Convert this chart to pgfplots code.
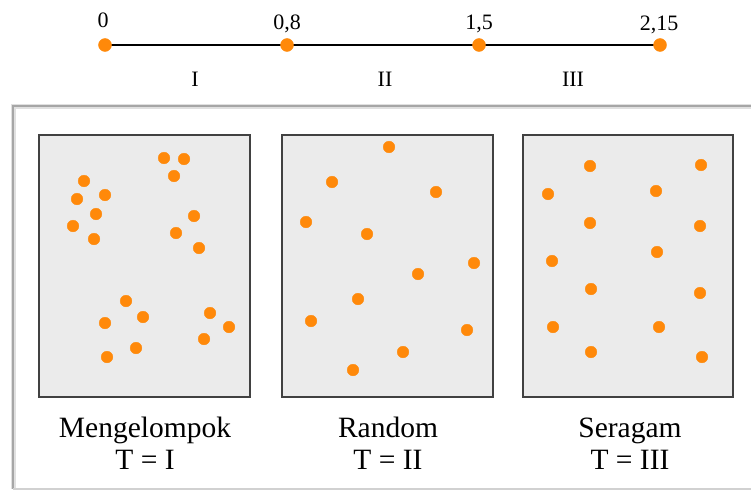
\documentclass[border=0pt]{standalone}
\usepackage{pgfplots}
\pgfplotsset{compat=1.18}
\usepackage{fontspec}
\setmainfont{Liberation Serif}

\definecolor{dot}{RGB}{255,137,10}
\definecolor{panelfill}{RGB}{235,235,235}
\definecolor{panelline}{RGB}{65,65,65}
\definecolor{txt}{RGB}{45,45,45}

\begin{document}
\begin{tikzpicture}
\begin{axis}[
    width=751pt, height=495pt, scale only axis,
    xmin=0, xmax=751, ymin=0, ymax=495,
    y dir=reverse,
    hide axis,
    every node/.style={text=txt},
    dots/.style={only marks, mark=*, mark size=5.8pt, color=dot,
        mark options={draw=none, fill=dot}},
]
% page corners
\addplot[draw=none] coordinates {(0,0) (751,495)};

% outer frame
\addplot[draw=black!12, line width=5pt] coordinates {(13,489) (13,106) (770,106)};
\addplot[draw=black!35, line width=1.6pt] coordinates {(13,489) (13,106) (770,106)};
\addplot[draw=black!18, line width=1.5pt] coordinates {(13,489) (770,489)};

% number line
\addplot[black, line width=2.6pt] coordinates {(105,45) (660,45)};
\addplot[dots, mark size=6.5pt] coordinates {(105,45) (287,45) (479,45) (660,45)};

\node[font=\fontsize{22}{24}\selectfont, anchor=base] at (axis cs:103,28) {0};
\node[font=\fontsize{22}{24}\selectfont, anchor=base] at (axis cs:287,30) {0,8};
\node[font=\fontsize{22}{24}\selectfont, anchor=base] at (axis cs:479,30) {1,5};
\node[font=\fontsize{22}{24}\selectfont, anchor=base] at (axis cs:659,31) {2,15};
\node[font=\fontsize{22}{24}\selectfont, anchor=base] at (axis cs:195,86) {I};
\node[font=\fontsize{22}{24}\selectfont, anchor=base] at (axis cs:385,86) {II};
\node[font=\fontsize{22}{24}\selectfont, anchor=base] at (axis cs:573,86) {III};

% panels
\addplot[fill=panelfill, draw=panelline, line width=2.6pt]
    coordinates {(39,135) (250,135) (250,397) (39,397)} -- cycle;
\addplot[fill=panelfill, draw=panelline, line width=2.6pt]
    coordinates {(282,135) (493,135) (493,397) (282,397)} -- cycle;
\addplot[fill=panelfill, draw=panelline, line width=2.6pt]
    coordinates {(523,135) (733,135) (733,397) (523,397)} -- cycle;

% Mengelompok
\addplot[dots] coordinates {
    (84,181) (77,199) (105,195) (96,214) (73,226) (94,239)
    (164,158) (184,159) (174,176) (194,216) (176,233) (199,248)
    (126,301) (105,323) (143,317) (107,357) (136,348)
    (210,313) (229,327) (204,339)
};
% Random
\addplot[dots] coordinates {
    (389,147) (332,182) (436,192) (306,222) (367,234) (474,263)
    (418,274) (358,299) (311,321) (467,330) (403,352) (353,370)
};
% Seragam
\addplot[dots] coordinates {
    (590,166) (701,165) (548,194) (656,191) (590,223) (700,226)
    (657,252) (552,261) (591,289) (700,293) (553,327) (659,327)
    (591,352) (702,357)
};

\node[font=\fontsize{29.5}{32}\selectfont, anchor=base] at (axis cs:145,437) {Mengelompok};
\node[font=\fontsize{29.5}{32}\selectfont, anchor=base] at (axis cs:145,469) {T = I};
\node[font=\fontsize{29.5}{32}\selectfont, anchor=base] at (axis cs:388,437) {Random};
\node[font=\fontsize{29.5}{32}\selectfont, anchor=base] at (axis cs:388,469) {T = II};
\node[font=\fontsize{29.5}{32}\selectfont, anchor=base] at (axis cs:630,437) {Seragam};
\node[font=\fontsize{29.5}{32}\selectfont, anchor=base] at (axis cs:630,469) {T = III};
\end{axis}
\end{tikzpicture}
\end{document}
